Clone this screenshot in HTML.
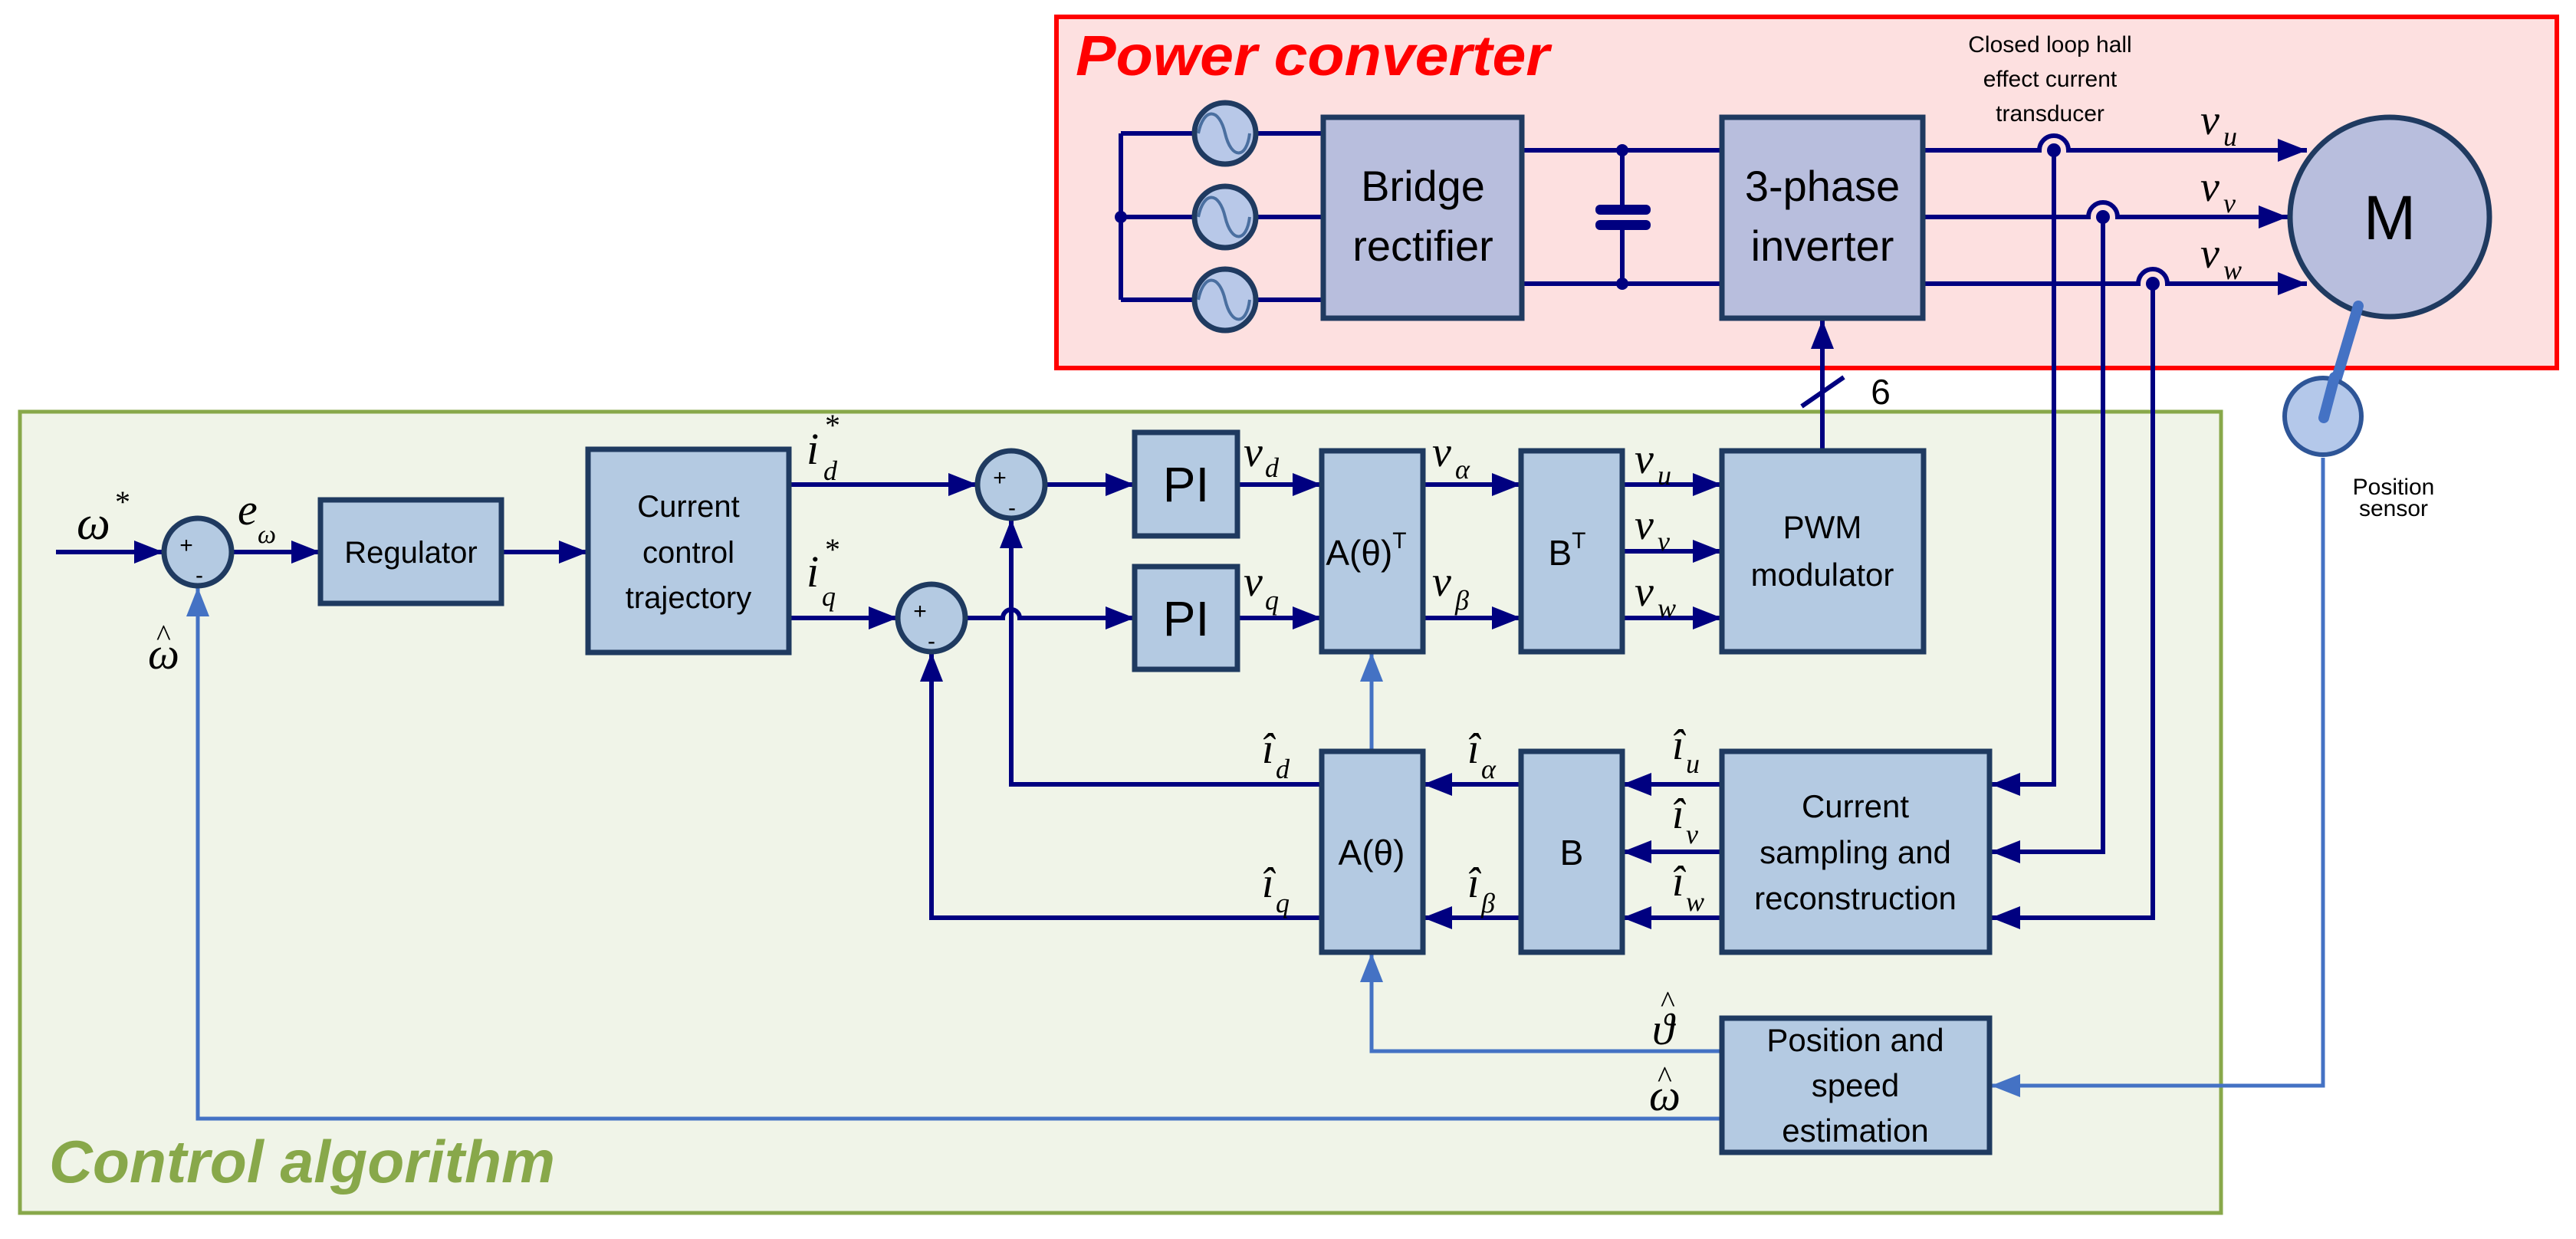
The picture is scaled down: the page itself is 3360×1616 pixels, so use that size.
<!DOCTYPE html>
<html><head><meta charset="utf-8"><style>html,body{margin:0;padding:0;background:#fff}svg{display:block}</style></head>
<body>
<svg width="3360" height="1616" viewBox="0 0 3360 1616" xmlns="http://www.w3.org/2000/svg">
<defs>
<marker id="an" markerWidth="38" markerHeight="30" refX="38" refY="15" orient="auto" markerUnits="userSpaceOnUse"><path d="M0,0 L38,15 L0,30 z" fill="#000080"/></marker>
<marker id="ab" markerWidth="38" markerHeight="30" refX="38" refY="15" orient="auto" markerUnits="userSpaceOnUse"><path d="M0,0 L38,15 L0,30 z" fill="#4472c4"/></marker>
</defs>
<rect x="1378" y="22" width="1957" height="458" fill="#fde0e0" stroke="#ff0000" stroke-width="6"/>
<text x="1403" y="98" font-family="Liberation Sans, sans-serif" font-weight="bold" font-style="italic" font-size="74" fill="#ff0000" textLength="618" lengthAdjust="spacingAndGlyphs">Power converter</text>
<rect x="26" y="537" width="2871" height="1045" fill="#f0f4e8" stroke="#88a84a" stroke-width="5"/>
<text x="64" y="1542" font-family="Liberation Sans, sans-serif" font-weight="bold" font-style="italic" font-size="78" fill="#88a84a" textLength="660" lengthAdjust="spacingAndGlyphs">Control algorithm</text>

<g stroke="#000080" stroke-width="6" fill="none">
<path d="M1462 174 V391 M1462 174 H1726 M1462 283 H1726 M1462 391 H1726"/>
<path d="M1985 196 H2246 M1985 370 H2246 M2116 196 V273 M2116 293 V370"/>
<path d="M2508 196 H2660 A19 19 0 0 1 2698 196 H3009" marker-end="url(#an)"/>
<path d="M2508 283 H2724 A19 19 0 0 1 2762 283 H2984" marker-end="url(#an)"/>
<path d="M2508 370 H2789 A19 19 0 0 1 2827 370 H3009" marker-end="url(#an)"/>
<path d="M2679 196 V1023 H2597" marker-end="url(#an)"/>
<path d="M2743 283 V1111 H2597" marker-end="url(#an)"/>
<path d="M2808 370 V1197 H2597" marker-end="url(#an)"/>
<path d="M2377 588 V417" marker-end="url(#an)"/>
<path d="M2350 530 L2405 492"/>
<path d="M73 720 H213" marker-end="url(#an)"/>
<path d="M302 720 H418" marker-end="url(#an)"/>
<path d="M654 720 H767" marker-end="url(#an)"/>
<path d="M1029 632 H1275" marker-end="url(#an)"/>
<path d="M1364 632 H1480" marker-end="url(#an)"/>
<path d="M1614 632 H1724" marker-end="url(#an)"/>
<path d="M1029 806 H1171" marker-end="url(#an)"/>
<path d="M1259 806 H1308 A11 11 0 0 1 1330 806 H1480" marker-end="url(#an)"/>
<path d="M1614 806 H1724" marker-end="url(#an)"/>
<path d="M1856 632 H1984" marker-end="url(#an)"/>
<path d="M1856 806 H1984" marker-end="url(#an)"/>
<path d="M2116 632 H2246" marker-end="url(#an)"/>
<path d="M2116 719 H2246" marker-end="url(#an)"/>
<path d="M2116 806 H2246" marker-end="url(#an)"/>
<path d="M2246 1023 H2116" marker-end="url(#an)"/>
<path d="M2246 1111 H2116" marker-end="url(#an)"/>
<path d="M2246 1197 H2116" marker-end="url(#an)"/>
<path d="M1984 1023 H1856" marker-end="url(#an)"/>
<path d="M1984 1197 H1856" marker-end="url(#an)"/>
<path d="M1724 1023 H1319 V677" marker-end="url(#an)"/>
<path d="M1724 1197 H1215 V851" marker-end="url(#an)"/>
</g>
<g stroke="#4472c4" stroke-width="5" fill="none">
<path d="M1789 980 V851" marker-end="url(#ab)"/>
<path d="M2246 1371 H1789 V1243" marker-end="url(#ab)"/>
<path d="M2246 1459 H258 V766" marker-end="url(#ab)"/>
<path d="M3030 597 V1416 H2597" marker-end="url(#ab)"/>
</g>
<g fill="#000080">
<circle cx="1462" cy="283" r="8"/><circle cx="2116" cy="196" r="8"/><circle cx="2116" cy="370" r="8"/>
<circle cx="2679" cy="196" r="9"/><circle cx="2743" cy="283" r="9"/><circle cx="2808" cy="370" r="9"/>
<rect x="2081" y="267" width="72" height="13" rx="6"/><rect x="2081" y="287" width="72" height="13" rx="6"/>
</g>
<g stroke="#1f3a60" stroke-width="7" fill="#b8c8e8">
<circle cx="1598" cy="174" r="40"/><circle cx="1598" cy="283" r="40"/><circle cx="1598" cy="391" r="40"/>
</g>
<g stroke="#4a6fa0" stroke-width="4" fill="none">
<path d="M1563 174 C1570 140 1590 140 1598 174 C1606 208 1626 208 1630 174"/>
<path d="M1563 283 C1570 249 1590 249 1598 283 C1606 317 1626 317 1630 283"/>
<path d="M1563 391 C1570 357 1590 357 1598 391 C1606 425 1626 425 1630 391"/>
</g>
<g stroke="#1f3a60" stroke-width="7" fill="#b8bedd">
<rect x="1726" y="153" width="259" height="262"/>
<rect x="2246" y="153" width="262" height="262"/>
<circle cx="3117" cy="283" r="130"/>
</g>
<g font-family="Liberation Sans, sans-serif" fill="#000" text-anchor="middle">
<text x="1856" y="262" font-size="56">Bridge</text>
<text x="1856" y="340" font-size="56">rectifier</text>
<text x="2377" y="262" font-size="56">3-phase</text>
<text x="2377" y="340" font-size="56">inverter</text>
<text x="3117" y="312" font-size="82">M</text>
<text x="2674" y="68" font-size="30">Closed loop hall</text>
<text x="2674" y="113" font-size="30">effect current</text>
<text x="2674" y="158" font-size="30">transducer</text>
<text x="3122" y="645" font-size="30">Position</text>
<text x="3122" y="673" font-size="30">sensor</text>
<text x="2453" y="527" font-size="46">6</text>
</g>
<line x1="3076" y1="399" x2="3031" y2="550" stroke="#4472c4" stroke-width="14" stroke-linecap="round"/>
<circle cx="3030" cy="543" r="50" fill="#b4c8ea" stroke="#2e5597" stroke-width="6"/>
<line x1="3045" y1="492" x2="3031" y2="545" stroke="#4472c4" stroke-width="14" stroke-linecap="round"/>
<g stroke="#1f3a60" stroke-width="7" fill="#b4cae2">
<rect x="418" y="652" width="236" height="135"/>
<rect x="767" y="586" width="262" height="265"/>
<rect x="1480" y="564" width="134" height="135"/>
<rect x="1480" y="739" width="134" height="134"/>
<rect x="1724" y="588" width="132" height="262"/>
<rect x="1984" y="588" width="132" height="262"/>
<rect x="2246" y="588" width="263" height="262"/>
<rect x="1724" y="980" width="132" height="262"/>
<rect x="1984" y="980" width="132" height="262"/>
<rect x="2246" y="980" width="349" height="262"/>
<rect x="2246" y="1328" width="349" height="175"/>
<circle cx="258" cy="720" r="44"/>
<circle cx="1319" cy="632" r="44"/>
<circle cx="1215" cy="806" r="44"/>
</g>
<g font-family="Liberation Sans, sans-serif" fill="#000" text-anchor="middle">
<text x="536" y="734" font-size="40">Regulator</text>
<text x="898" y="674" font-size="40">Current</text>
<text x="898" y="734" font-size="40">control</text>
<text x="898" y="793" font-size="40">trajectory</text>
<text x="1547" y="654" font-size="64">PI</text>
<text x="1547" y="829" font-size="64">PI</text>
<text x="1782" y="737" font-size="46">A(θ)<tspan font-size="30" dy="-22">T</tspan></text>
<text x="2044" y="737" font-size="46">B<tspan font-size="30" dy="-22">T</tspan></text>
<text x="2377" y="702" font-size="42">PWM</text>
<text x="2377" y="764" font-size="42">modulator</text>
<text x="1789" y="1128" font-size="46">A(θ)</text>
<text x="2050" y="1128" font-size="46">B</text>
<text x="2420" y="1066" font-size="42">Current</text>
<text x="2420" y="1126" font-size="42">sampling and</text>
<text x="2420" y="1186" font-size="42">reconstruction</text>
<text x="2420" y="1371" font-size="42">Position and</text>
<text x="2420" y="1430" font-size="42">speed</text>
<text x="2420" y="1489" font-size="42">estimation</text>
<g font-size="30">
<text x="243" y="721">+</text><text x="260" y="760">-</text>
<text x="1304" y="633">+</text><text x="1320" y="672">-</text>
<text x="1200" y="807">+</text><text x="1215" y="846">-</text>
</g>
</g>
<g font-family="Liberation Serif, serif" font-style="italic" fill="#000">
<text x="100" y="703" font-size="62">ω</text><text x="150" y="668" font-size="40" font-style="normal">*</text>
<text x="310" y="684" font-size="58">e</text><text x="336" y="708" font-size="34">ω</text>
<text x="193" y="872" font-size="58">ω</text><text x="204" y="842" font-size="40" font-style="normal">^</text>
<text x="1052" y="605" font-size="58">i</text><text x="1074" y="626" font-size="36">d</text><text x="1076" y="568" font-size="40" font-style="normal">*</text>
<text x="1052" y="765" font-size="58">i</text><text x="1072" y="790" font-size="36">q</text><text x="1076" y="730" font-size="40" font-style="normal">*</text>
<text x="1622" y="608" font-size="56">v</text><text x="1650" y="622" font-size="36">d</text>
<text x="1622" y="777" font-size="56">v</text><text x="1650" y="795" font-size="36">q</text>
<text x="1868" y="608" font-size="56">v</text><text x="1898" y="624" font-size="36">α</text>
<text x="1868" y="777" font-size="56">v</text><text x="1898" y="795" font-size="36">β</text>
<text x="2132" y="617" font-size="56">v</text><text x="2162" y="632" font-size="36">u</text>
<text x="2132" y="703" font-size="56">v</text><text x="2162" y="718" font-size="36">v</text>
<text x="2132" y="790" font-size="56">v</text><text x="2162" y="805" font-size="36">w</text>
<text x="2870" y="175" font-size="56">v</text><text x="2900" y="190" font-size="36">u</text>
<text x="2870" y="262" font-size="56">v</text><text x="2900" y="277" font-size="36">v</text>
<text x="2870" y="349" font-size="56">v</text><text x="2900" y="364" font-size="36">w</text>
<text x="1646" y="995" font-size="56">î</text><text x="1664" y="1015" font-size="36">d</text>
<text x="1646" y="1170" font-size="56">î</text><text x="1664" y="1190" font-size="36">q</text>
<text x="1914" y="995" font-size="56">î</text><text x="1932" y="1015" font-size="36">α</text>
<text x="1914" y="1170" font-size="56">î</text><text x="1932" y="1190" font-size="36">β</text>
<text x="2181" y="990" font-size="56">î</text><text x="2199" y="1008" font-size="36">u</text>
<text x="2181" y="1080" font-size="56">î</text><text x="2199" y="1100" font-size="36">v</text>
<text x="2181" y="1168" font-size="56">î</text><text x="2199" y="1188" font-size="36">w</text>
<text x="2155" y="1362" font-size="58">ϑ</text><text x="2166" y="1320" font-size="40" font-style="normal">^</text>
<text x="2151" y="1448" font-size="58">ω</text><text x="2162" y="1418" font-size="40" font-style="normal">^</text>
</g>
</svg>
</body></html>
